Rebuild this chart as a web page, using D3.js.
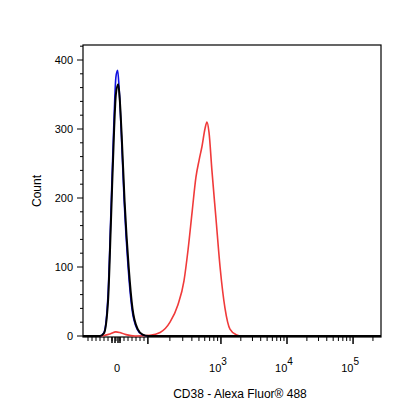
<!DOCTYPE html><html><head><script src="https://cdn.jsdelivr.net/npm/d3@7"></script>
<style>body{margin:0;background:#fff}text{font-family:"Liberation Sans",Arial,sans-serif}</style></head><body>
<svg id="c" width="416" height="416"></svg>
<script>
const yTicks=[0,100,200,300,400];
const xTickPos=[117,474,701,928]; // channel positions of 0,10^3,10^4,10^5
const xTickExp=[null,3,4,5];
const decadeStarts=[223,474,701,928]; // 10^2..10^5
const blue=[[0,0],[58,0],[72,5],[86,60],[96,180],[107,320],[113,375],[119,385],[124,360],[131,300],[141,200],[155,100],[168,40],[186,10],[203,2],[223,0],[1024,0]];
const black=[[0,0],[58,0],[72,4],[86,50],[96,165],[107,300],[113,350],[121,365],[126,345],[133,290],[143,195],[157,100],[170,40],[188,10],[205,2],[225,0],[1024,0]];
const red=[[0,0],[58,0],[93,3],[113,6],[127,5],[148,2],[179,0],[230,1],[265,5],[299,20],[326,45],[347,80],[361,125],[375,180],[388,230],[399,255],[409,275],[419,300],[426,310],[433,295],[443,240],[457,170],[471,100],[488,40],[505,10],[526,2],[546,0],[1024,0]];
const svg=d3.select("#c");
const L=83,R=381,T=45,B=337;
const x=d3.scaleLinear().domain([0,1024]).range([L,R]);
const y=d3.scaleLinear().domain([0,400]).range([336,60]);
svg.append("rect").attr("x",L).attr("y",T).attr("width",R-L).attr("height",B-T).attr("fill","none").attr("stroke","#000").attr("stroke-width",1.2);
const line=d3.line().x(d=>x(d[0])).y(d=>y(d[1])).curve(d3.curveMonotoneX);
[[red,"#f03a3a"],[blue,"#1010e0"],[black,"#000"]].forEach(([d,c])=>svg.append("path").datum(d).attr("d",line).attr("fill","none").attr("stroke",c).attr("stroke-width",c=="#000"?2:1.6));
// y axis
const yminor=d3.range(0,421,20);
yminor.forEach(v=>{if(y(v)>=T)svg.append("line").attr("x1",L-(v%100?3:6)).attr("x2",L).attr("y1",y(v)).attr("y2",y(v)).attr("stroke","#000");});
yTicks.forEach(v=>svg.append("text").attr("x",L-10).attr("y",y(v)+4).attr("text-anchor","end").attr("font-size",11).text(v));
svg.append("text").attr("transform",`translate(41,${(T+B)/2}) rotate(-90)`).attr("text-anchor","middle").attr("font-size",12).text("Count");
// x axis ticks
const minors=[];
for(let c=88;c<=210;c+=9)minors.push(x.invert(c)>0?c:c);
const lin=d3.range(88,146,4).map(p=>x.invert(p));
lin.forEach(c=>svg.append("line").attr("x1",x(c)).attr("x2",x(c)).attr("y1",B).attr("y2",B+4).attr("stroke","#000"));
[112,115,118,120].forEach(p=>svg.append("line").attr("x1",p).attr("x2",p).attr("y1",B).attr("y2",B+6).attr("stroke","#000").attr("stroke-width",1.5));
const widths=[251,227,227,227];
decadeStarts.forEach((s,i)=>{
  svg.append("line").attr("x1",x(s)).attr("x2",x(s)).attr("y1",B).attr("y2",B+7).attr("stroke","#000").attr("stroke-width",1.5);
  for(let k=2;k<=9;k++){const c=s+Math.log10(k)*widths[i];if(c<=1024)svg.append("line").attr("x1",x(c)).attr("x2",x(c)).attr("y1",B).attr("y2",B+4).attr("stroke","#000");}
});
xTickPos.forEach((c,i)=>{
  const t=svg.append("text").attr("x",x(c)).attr("y",372).attr("text-anchor","middle").attr("font-size",11);
  if(xTickExp[i]==null)t.text("0");else{t.attr("x",x(c)-3).text("10");t.append("tspan").attr("dy",-7).attr("font-size",10).text(xTickExp[i]);}
});
svg.append("text").attr("x",(L+R)/2+8).attr("y",398).attr("text-anchor","middle").attr("font-size",12).text("CD38 - Alexa Fluor® 488");
</script></body></html>
